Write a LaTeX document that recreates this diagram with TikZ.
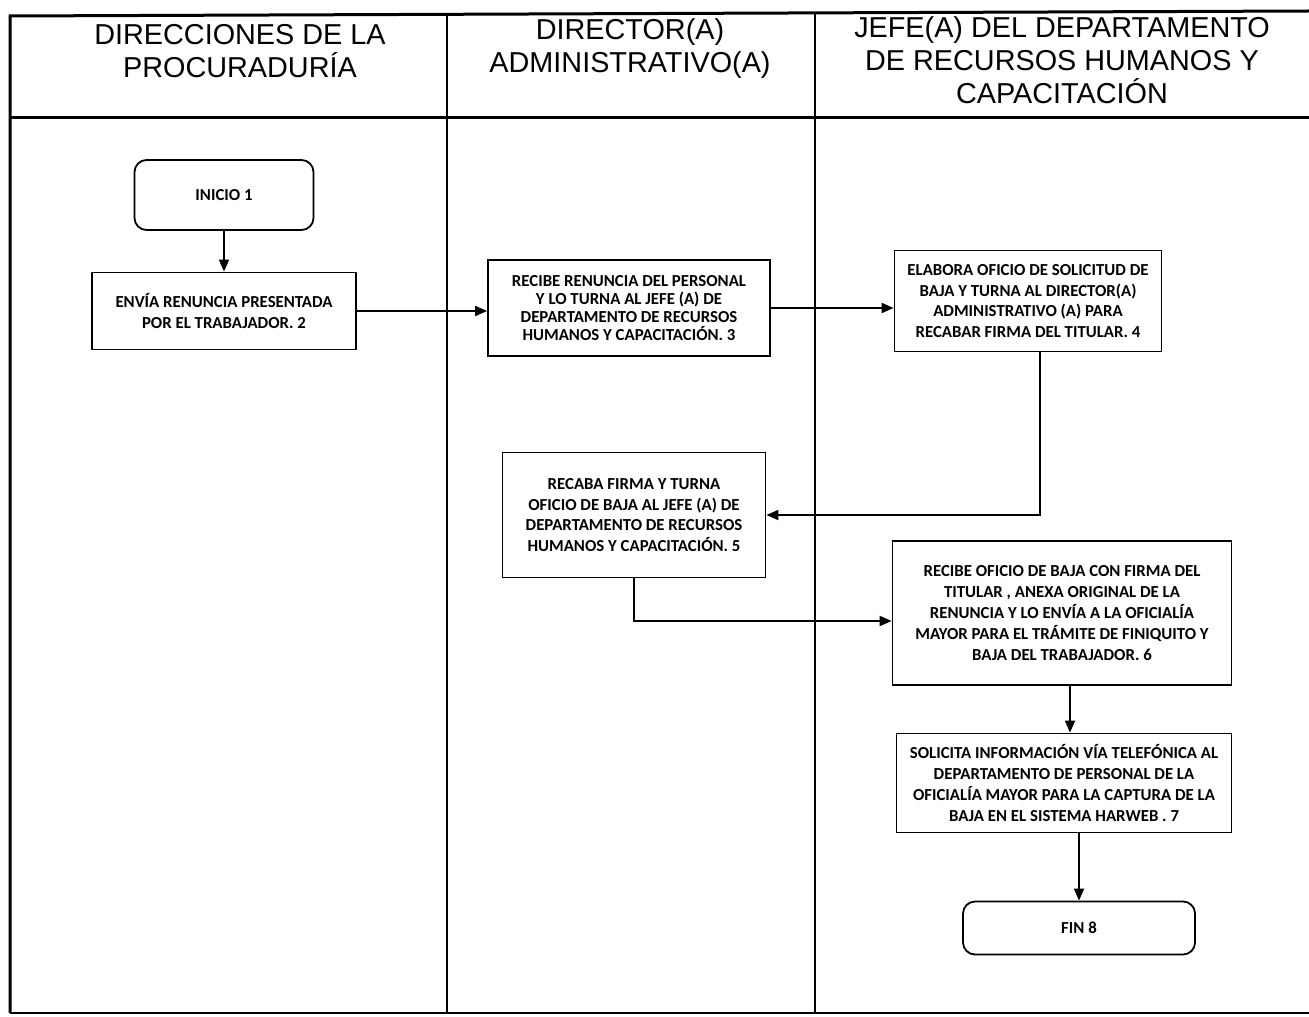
\documentclass[tikz,border=0pt]{standalone}
\usepackage{fontspec}
\setmainfont{Carlito}
\newfontfamily\headfont{Liberation Sans}
\usetikzlibrary{arrows.meta}
\tikzset{
  lane/.style={line width=1pt, black},
  lanehead/.style={align=center, font=\headfont\fontsize{14.4}{16.5}\selectfont},
  pbox/.style={draw, line width=0.9pt, align=center, inner sep=2pt,
    font=\bfseries\fontsize{8.4}{10.4}\selectfont},
  pterm/.style={pbox, rounded corners=6pt},
  flow/.style={-{Triangle[length=6pt,width=5pt]}, line width=0.9pt}
}
\begin{document}
\begin{tikzpicture}[x=0.5pt,y=-0.5pt]
  \useasboundingbox (0,0) rectangle (1309,1016);
  % marco y carriles
  \draw[lane, line width=1.5pt] (10,1013) -- (10,16) -- (1309,11);
  \draw[lane, line width=1.5pt] (10,118) -- (1309,118);
  \draw[lane] (10,1013) -- (1309,1013);
  \draw[lane] (447,15) -- (447,1013);
  \draw[lane] (815,13) -- (815,1013);
  \node[lanehead] (h1) at (240,51) {DIRECCIONES DE LA\\PROCURADURÍA};
  \node[lanehead] (h2) at (630,49) {DIRECTOR(A)\\ADMINISTRATIVO(A)};
  \node[lanehead] (h3) at (1062,60) {JEFE(A) DEL DEPARTAMENTO\\DE RECURSOS HUMANOS Y\\CAPACITACIÓN};
  % actividades
  \node[pterm, minimum width=89.5pt, minimum height=35pt] (inicio) at (224,195) {INICIO 1};
  \node[pbox, minimum width=132pt, minimum height=38.5pt] (envia) at (224,311)
    {ENVÍA RENUNCIA PRESENTADA\\POR EL TRABAJADOR. 2};
  \node[pbox, minimum width=141pt, minimum height=48pt,
    font=\bfseries\fontsize{8.4}{9}\selectfont] (recibe) at (629,308)
    {RECIBE RENUNCIA DEL PERSONAL\\Y LO TURNA AL JEFE (A) DE\\DEPARTAMENTO DE RECURSOS\\HUMANOS Y CAPACITACIÓN. 3};
  \node[pbox, minimum width=133.5pt, minimum height=50.5pt] (elabora) at (1028,301)
    {ELABORA OFICIO DE SOLICITUD DE\\BAJA Y TURNA AL DIRECTOR(A)\\ADMINISTRATIVO (A) PARA\\RECABAR FIRMA DEL TITULAR. 4};
  \node[pbox, minimum width=131.5pt, minimum height=62.5pt] (recaba) at (634,515)
    {RECABA FIRMA Y TURNA\\OFICIO DE BAJA AL JEFE (A) DE\\DEPARTAMENTO DE RECURSOS\\HUMANOS Y CAPACITACIÓN. 5};
  \node[pbox, minimum width=169.5pt, minimum height=72pt] (oficio) at (1062,613)
    {RECIBE OFICIO DE BAJA CON FIRMA DEL\\TITULAR , ANEXA ORIGINAL DE LA\\RENUNCIA Y LO ENVÍA A LA OFICIALÍA\\MAYOR PARA EL TRÁMITE DE FINIQUITO Y\\BAJA DEL TRABAJADOR. 6};
  \node[pbox, minimum width=167.5pt, minimum height=49.5pt] (solicita) at (1064,783)
    {SOLICITA INFORMACIÓN VÍA TELEFÓNICA AL\\DEPARTAMENTO DE PERSONAL DE LA\\OFICIALÍA MAYOR PARA LA CAPTURA DE LA\\BAJA EN EL SISTEMA HARWEB . 7};
  \node[pterm, minimum width=116pt, minimum height=26.5pt] (fin) at (1079,928) {FIN 8};
  % flujo
  \draw[flow] (inicio) -- (envia);
  \draw[flow] (envia.east) -- (envia.east -| recibe.west);
  \draw[flow] (recibe.east) -- (recibe.east -| elabora.west);
  \draw[flow] ([xshift=6pt]elabora.south) |- (recaba.east);
  \draw[flow] (recaba.south) |- ([yshift=-4pt]oficio.west);
  \draw[flow] ([xshift=4pt]oficio.south) -- ([xshift=4pt]oficio.south |- solicita.north);
  \draw[flow] (fin.north |- solicita.south) -- (fin.north);
\end{tikzpicture}
\end{document}
